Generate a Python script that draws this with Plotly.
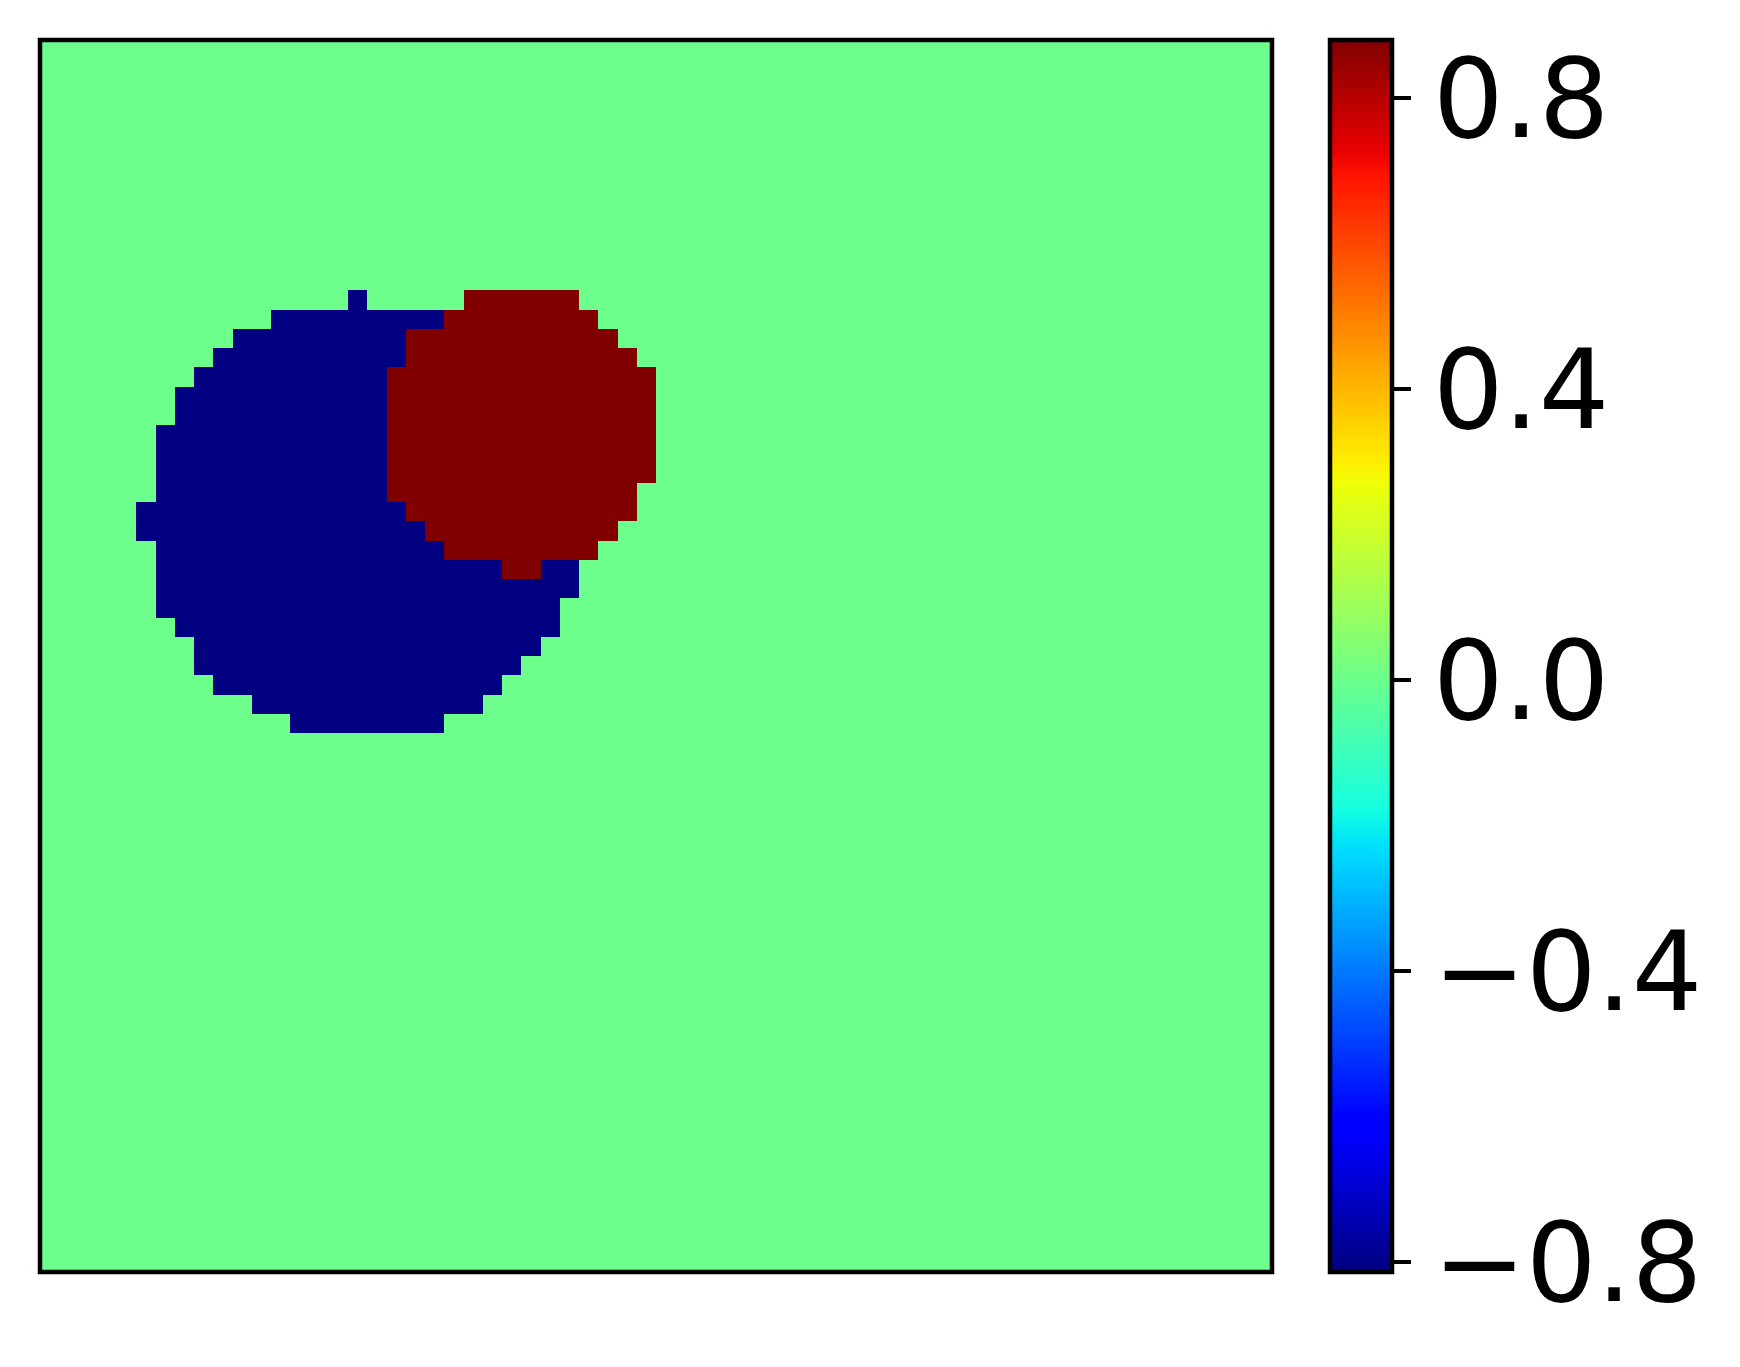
import numpy as np
import plotly.graph_objects as go

# 64x64 field, values
n_cells = 64
background = 0.0
low = -0.8135
high = 0.880

# (row from top, first col, last col)
blue_runs = [(13, 16, 16), (14, 12, 20), (15, 10, 18), (16, 9, 18), (17, 8, 17),
             (18, 7, 17), (19, 7, 17), (20, 6, 17), (21, 6, 17), (22, 6, 17),
             (23, 6, 17), (24, 5, 18), (25, 5, 19), (26, 6, 20), (27, 6, 23),
             (27, 26, 27), (28, 6, 27), (29, 6, 26), (30, 7, 26), (31, 8, 25),
             (32, 8, 24), (33, 9, 23), (34, 11, 22), (35, 13, 20)]
red_runs = [(13, 22, 27), (14, 21, 28), (15, 19, 29), (16, 19, 30), (17, 18, 31),
            (18, 18, 31), (19, 18, 31), (20, 18, 31), (21, 18, 31), (22, 18, 31),
            (23, 18, 30), (24, 19, 30), (25, 20, 29), (26, 21, 28), (27, 24, 25)]

tick_vals = [-0.8, -0.4, 0.0, 0.4, 0.8]
tick_text = ["\u22120.8", "\u22120.4", "0.0", "0.4", "0.8"]

z = np.full((n_cells, n_cells), background)
for row, c0, c1 in blue_runs:
    z[row, c0:c1 + 1] = low
for row, c0, c1 in red_runs:
    z[row, c0:c1 + 1] = high


def jet_colorscale():
    # matplotlib "jet" segment data
    seg = dict(r=[(0, 0), (0.35, 0), (0.66, 1), (0.89, 1), (1, 0.5)],
               g=[(0, 0), (0.125, 0), (0.375, 1), (0.64, 1), (0.91, 0), (1, 0)],
               b=[(0, 0.5), (0.11, 1), (0.34, 1), (0.65, 0), (1, 0)])
    stops = sorted({p for s in seg.values() for p, _ in s})
    scale = []
    for p in stops:
        rgb = [np.interp(p, [a for a, _ in seg[k]], [v for _, v in seg[k]]) for k in "rgb"]
        scale.append([p, "rgb(%d,%d,%d)" % tuple(round(255 * c) for c in rgb)])
    return scale


fig = go.Figure(go.Heatmap(z=z,
                           zmin=low, zmax=high,
                           colorscale=jet_colorscale(),
                           hoverongaps=False,
                           colorbar=dict(thickness=62, len=1, lenmode="fraction",
                                         x=1.0471, xanchor="left", xpad=0,
                                         y=0.5, yanchor="middle", ypad=0,
                                         outlinewidth=4.5, outlinecolor="black",
                                         ticks="outside", ticklen=17, tickwidth=4, tickcolor="black",
                                         tickvals=tick_vals, ticktext=tick_text,
                                         tickfont=dict(family="DejaVu Sans", size=111, color="black"))))

# page body has an 8px margin, so the figure starts at (8, 8)
fig.update_layout(width=1740, height=1367,
                  margin=dict(l=32, r=476, t=32, b=103),
                  paper_bgcolor="white", plot_bgcolor="white",
                  xaxis=dict(range=[-0.5, n_cells - 0.5], showticklabels=False, ticks="",
                             showgrid=False, zeroline=False),
                  yaxis=dict(range=[n_cells - 0.5, -0.5], showticklabels=False, ticks="",
                             showgrid=False, zeroline=False),
                  shapes=[dict(type="rect", xref="paper", yref="paper", x0=0, x1=1, y0=0, y1=1,
                               line=dict(color="black", width=4.5), layer="above")])

fig.write_html("out.html")
